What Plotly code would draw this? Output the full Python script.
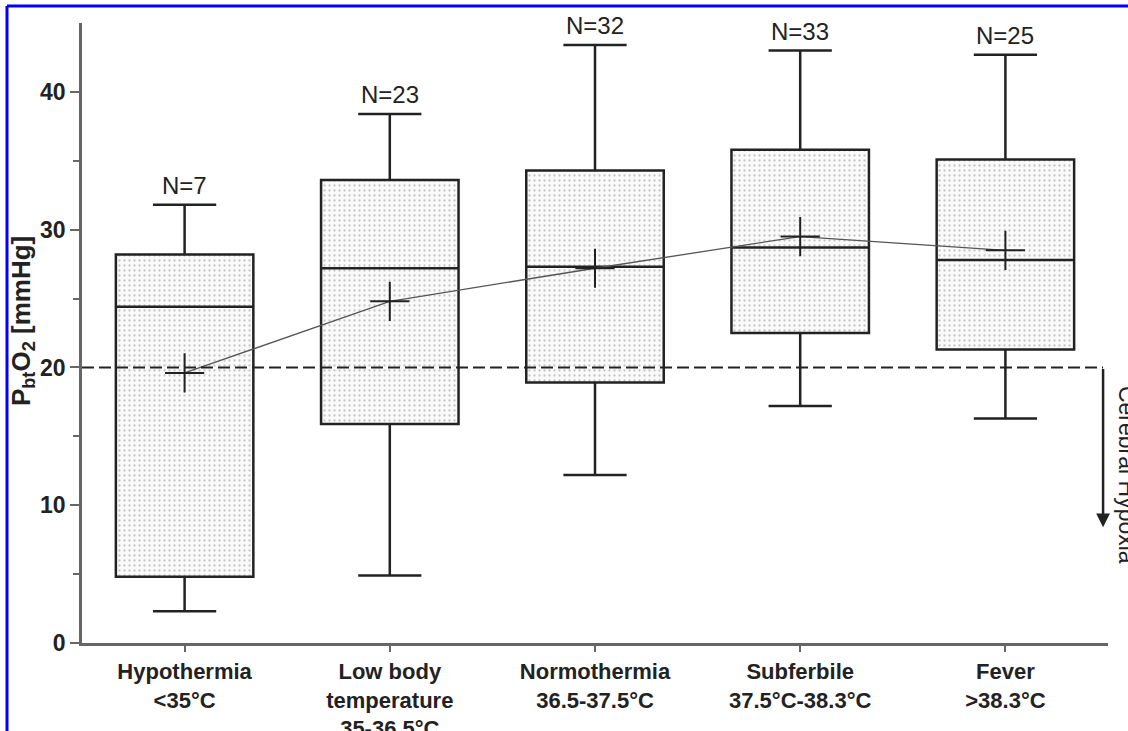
import plotly.graph_objects as go

categories = ["Hypothermia<br><35°C", "Low body<br>temperature<br>35-36.5°C",
              "Normothermia<br>36.5-37.5°C", "Subferbile<br>37.5°C-38.3°C", "Fever<br>>38.3°C"]
n_labels = ["N=7", "N=23", "N=32", "N=33", "N=25"]
upper_whisker = [31.8, 38.4, 43.4, 43.0, 42.7]
q3_values = [28.2, 33.6, 34.3, 35.8, 35.1]
median_values = [24.4, 27.2, 27.3, 28.7, 27.8]
q1_values = [4.8, 15.9, 18.9, 22.5, 21.3]
lower_whisker = [2.3, 4.9, 12.2, 17.2, 16.3]
mean_values = [19.6, 24.8, 27.2, 29.5, 28.5]
hypoxia_threshold = 20
y_ticks = [0, 10, 20, 30, 40]

xpos = list(range(len(categories)))
FONT = "Liberation Sans, Arial, Helvetica, sans-serif"
DARK = "#222222"
AX = "#666666"

fig = go.Figure()

# dotted fill of boxes
fig.add_trace(go.Bar(
    x=xpos, y=[a - b for a, b in zip(q3_values, q1_values)], base=q1_values,
    width=0.67, marker=dict(color="white", line=dict(width=0),
                            pattern=dict(shape=".", fgcolor="#8f8f8f", bgcolor="#fafafa",
                                         size=5, solidity=0.16)),
    showlegend=False, hoverinfo="skip"))

fig.add_trace(go.Box(
    x=xpos, q1=q1_values, median=median_values, q3=q3_values,
    lowerfence=lower_whisker, upperfence=upper_whisker,
    width=0.67, whiskerwidth=0.46, boxpoints=False,
    fillcolor="rgba(0,0,0,0)", line=dict(color=DARK, width=2.5),
    showlegend=False))

fig.add_trace(go.Scatter(
    x=xpos, y=mean_values, mode="lines+markers",
    line=dict(color="#555555", width=1.3),
    marker=dict(symbol="cross-thin", size=28, line=dict(color=DARK, width=2)),
    showlegend=False))

# threshold dashed line
fig.add_shape(type="line", xref="x", yref="y", x0=-0.5, x1=4.476,
              y0=hypoxia_threshold, y1=hypoxia_threshold,
              line=dict(color=DARK, width=2, dash="12px,5px"))

# arrow
fig.add_annotation(x=4.476, y=8.4, ax=4.476, ay=hypoxia_threshold, xref="x", yref="y",
                   axref="x", ayref="y", showarrow=True, arrowhead=2, arrowsize=1.1,
                   arrowwidth=2.5, arrowcolor=DARK, text="")
fig.add_annotation(x=1.0185, y=12.2, xref="paper", yref="y", text="Cerebral Hypoxia",
                   xanchor="center", yanchor="middle",
                   textangle=90, showarrow=False, font=dict(family=FONT, size=23, color=DARK))

for i, (t, u) in enumerate(zip(n_labels, upper_whisker)):
    fig.add_annotation(x=i, y=u, xref="x", yref="y", text=t, showarrow=False,
                       yanchor="bottom", yshift=4, font=dict(family=FONT, size=24, color=DARK))

# y title
fig.add_annotation(x=-0.058, y=23.4, xref="paper", yref="y",
                   xanchor="center", yanchor="middle",
                   text="<b>P<sub>bt</sub>O<sub>2</sub> [mmHg]</b>", textangle=-90,
                   showarrow=False, font=dict(family=FONT, size=26, color=DARK))

# blue frame (top/left)
fig.add_shape(type="line", xref="paper", yref="paper", x0=-0.0731, x1=1.1, y0=1.0274, y1=1.0274,
              line=dict(color="#0000ff", width=3))
fig.add_shape(type="line", xref="paper", yref="paper", x0=-0.0731, x1=-0.0731, y0=1.0274, y1=-0.3,
              line=dict(color="#0000ff", width=3))

fig.update_layout(
    width=1128, height=731,
    margin=dict(l=82, r=20, t=23, b=88, autoexpand=False),
    plot_bgcolor="white", paper_bgcolor="white",
    font=dict(family=FONT, color=DARK),
    bargap=0, barmode="overlay",
)
fig.update_xaxes(range=[-0.5, 4.5], tickvals=xpos, ticktext=categories, automargin=False,
                 showline=True, linecolor=AX, linewidth=2.5, ticks="outside", ticklen=6,
                 tickwidth=2, tickcolor=AX, showgrid=False, zeroline=False,
                 tickfont=dict(family=FONT, size=22, color=DARK, weight="bold"),
                 ticklabelstandoff=1)
fig.update_yaxes(range=[0, 45], tickvals=y_ticks, showline=True, linecolor=AX, linewidth=2.5,
                 automargin=False,
                 ticks="outside", ticklen=9, tickwidth=2, tickcolor=AX, showgrid=False,
                 zeroline=False, tickfont=dict(family=FONT, size=23, color=DARK, weight="bold"),
                 minor=dict(tickvals=[5, 15, 25, 35], ticks="outside", ticklen=6, tickwidth=2,
                            tickcolor=AX))

fig.write_html("out.html", config={"displayModeBar": False},
               post_script="document.body.style.margin='0';")
